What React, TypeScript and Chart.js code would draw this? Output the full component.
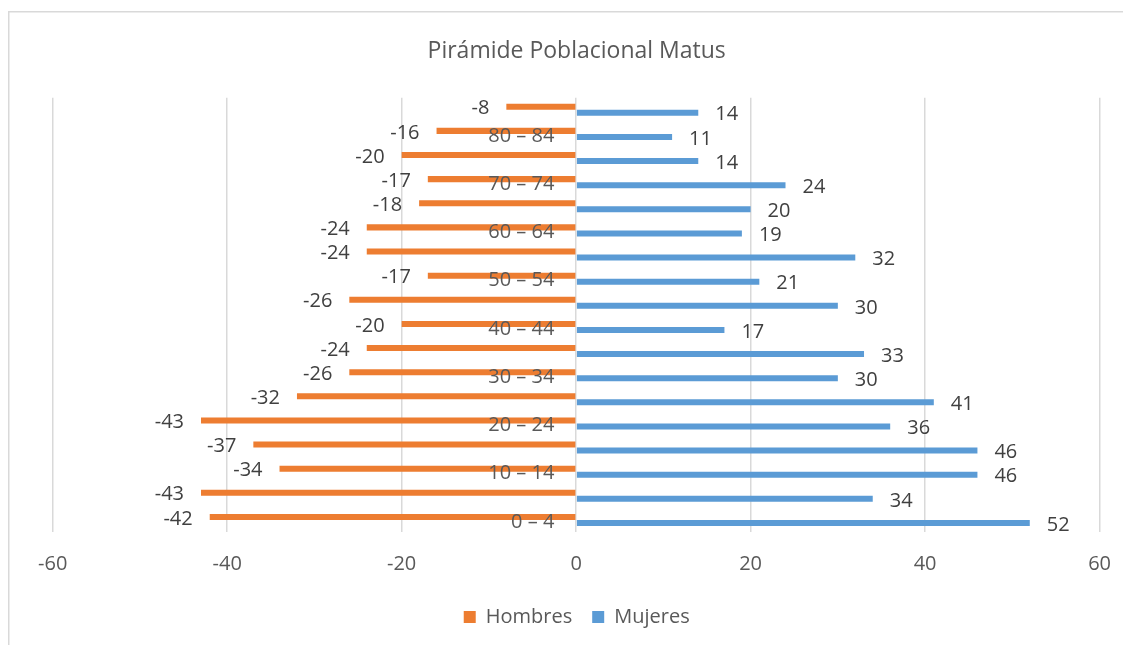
import React, { useEffect, useRef } from "react";
import { Chart, registerables } from "chart.js";

Chart.register(...registerables);

const ageGroups = [
  "0 – 4", "5 – 9", "10 – 14", "15 – 19", "20 – 24", "25 – 29",
  "30 – 34", "35 – 39", "40 – 44", "45 – 49", "50 – 54", "55 – 59",
  "60 – 64", "65 – 69", "70 – 74", "75 – 79", "80 – 84", "85 +",
];
const hombres = [-42, -43, -34, -37, -43, -32, -26, -24, -20, -26, -17, -24, -24, -18, -17, -20, -16, -8];
const mujeres = [52, 34, 46, 46, 36, 41, 30, 33, 17, 30, 21, 32, 19, 20, 24, 14, 11, 14];
const xMin = -60;
const xMax = 60;
const xStep = 20;

const FONT = "'Open Sans', sans-serif";
const W = 1123;
const H = 637;

const valueLabels = {
  id: "valueLabels",
  afterDatasetsDraw(chart: any) {
    const ctx = chart.ctx;
    ctx.save();
    ctx.font = `20px ${FONT}`;
    ctx.fillStyle = "#404040";
    ctx.textBaseline = "middle";
    chart.data.datasets.forEach((ds: any, di: number) => {
      const meta = chart.getDatasetMeta(di);
      meta.data.forEach((el: any, i: number) => {
        const v = ds.data[i];
        const { x, y } = el.getProps(["x", "y"], true);
        if (v < 0) {
          ctx.textAlign = "right";
          ctx.fillText(String(v), x - 17, y + 2);
        } else {
          ctx.textAlign = "left";
          ctx.fillText(String(v), x + 17, y + 2);
        }
      });
    });
    ctx.restore();
  },
};

const frame = {
  id: "frame",
  beforeDraw(chart: any) {
    const ctx = chart.ctx;
    ctx.save();
    ctx.strokeStyle = "#d9d9d9";
    ctx.lineWidth = 1.5;
    ctx.beginPath();
    ctx.moveTo(0.75, chart.height);
    ctx.lineTo(0.75, 3.75);
    ctx.lineTo(chart.width, 3.75);
    ctx.stroke();
    ctx.restore();
  },
};

export default function App() {
  const ref = useRef<HTMLCanvasElement>(null);

  useEffect(() => {
    document.documentElement.style.overflow = "hidden";
    document.body.style.overflow = "hidden";
    const canvas = ref.current;
    if (!canvas) return;
    const chart = new Chart(canvas, {
      type: "bar",
      data: {
        labels: ageGroups,
        datasets: [
          {
            label: "Hombres",
            data: hombres,
            backgroundColor: "#ED7D31",
            borderWidth: 0,
            categoryPercentage: 0.5,
            barPercentage: 1,
          },
          {
            label: "Mujeres",
            data: mujeres,
            backgroundColor: "#5B9BD5",
            borderWidth: 0,
            categoryPercentage: 0.5,
            barPercentage: 1,
          },
        ],
      },
      options: {
        indexAxis: "y",
        animation: false,
        responsive: false,
        layout: { padding: { left: 44.7, right: 30.3, top: 0, bottom: 8 } },
        scales: {
          x: {
            type: "linear",
            position: "bottom",
            min: xMin,
            max: xMax,
            ticks: {
              stepSize: xStep,
              color: "#595959",
              font: { family: FONT, size: 20 },
              padding: 20,
            },
            grid: { color: "#d9d9d9", lineWidth: 1.5, drawTicks: false },
            border: { display: false },
            afterFit: (s: any) => {
              s.height = 55;
            },
          },
          y: {
            type: "category",
            // labels sit just left of the zero line, like Excel's "next to axis"
            position: { x: -2.5 } as any,
            reverse: true,
            grid: { display: false, drawTicks: false },
            border: { display: false },
            ticks: {
              z: 1,
              autoSkip: false,
              padding: 0,
              labelOffset: 2,
              color: "#595959",
              font: { family: FONT, size: 20 },
              callback: (_v: any, i: number) => (i % 2 === 0 ? ageGroups[i] : ""),
            },
          },
        },
        plugins: {
          title: {
            display: true,
            text: "Pirámide Poblacional Matus",
            color: "#595959",
            font: { family: FONT, size: 23, weight: "normal" },
            padding: { top: 30, bottom: 32.1 },
          },
          legend: {
            position: "bottom",
            labels: {
              boxWidth: 12,
              boxHeight: 12,
              padding: 20,
              color: "#595959",
              font: { family: FONT, size: 20 },
            },
          },
          tooltip: { enabled: false },
        },
      },
      plugins: [frame, valueLabels],
    });
    return () => chart.destroy();
  }, []);

  return (
    <div style={{ width: W, height: H }}>
      <canvas ref={ref} width={W} height={H} style={{ display: "block" }} />
    </div>
  );
}
